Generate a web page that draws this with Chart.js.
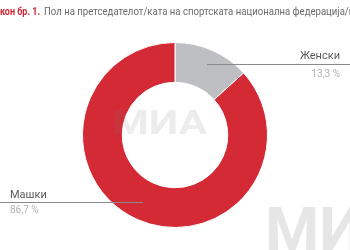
<!DOCTYPE html>
<html>
<head>
<meta charset="utf-8">
<script src="https://cdn.jsdelivr.net/npm/chart.js@4/dist/chart.umd.min.js"></script>
<style>
  html, body { margin: 0; padding: 0; background: #fff; }
  #wrap { position: relative; width: 350px; height: 250px; overflow: hidden; }
</style>
</head>
<body>
<div id="wrap"><canvas id="pie" width="350" height="250"></canvas></div>
<script>
const categories = ['Женски', 'Машки']
const shares = [13.3, 86.7]
const shareLabels = ['13,3 %', '86,7 %']
const colors = ['#bdbfc3', '#d32a35']

const titleLead = 'кон бр. 1.'
const titleRest = 'Пол на претседателот/ката на спортската национална федерација/к'

const FONT = 'Roboto, sans-serif'

// draws text squeezed horizontally so that it fills a given width
function fitText(c, txt, x, y, w) {
    const real = c.measureText(txt).width
    c.save()
    c.translate(x, y)
    c.scale(w / real, 1)
    c.fillText(txt, 0, 0)
    c.restore()
}

// labels, leader lines, title and watermarks
const extras = {
    id: 'extras',
    beforeDatasetsDraw(chart) {
        const c = chart.ctx
        c.save()
        c.fillStyle = 'rgba(205,205,205,0.5)'
        c.font = 'bold 62px ' + FONT
        c.textBaseline = 'top'
        c.textAlign = 'left'
        c.fillText('МИА', 265, 204)
        c.restore()
    },
    afterDraw(chart) {
        const c = chart.ctx
        c.save()

        // title
        c.textBaseline = 'middle'
        c.textAlign = 'left'
        c.font = 'bold 11px ' + FONT
        c.fillStyle = '#cf2a36'
        fitText(c, titleLead, 0, 12, 40)
        c.font = '11px ' + FONT
        c.fillStyle = '#6a6a6a'
        fitText(c, titleRest, 44, 12, 310)

        // centre watermark
        c.font = 'bold 34px ' + FONT
        c.fillStyle = 'rgba(120,120,120,0.14)'
        fitText(c, 'МИА', 112, 125, 95)

        // leader lines
        c.strokeStyle = '#8a8a8a'
        c.lineWidth = 1
        c.beginPath()
        c.moveTo(207, 64.5)
        c.lineTo(350, 64.5)
        c.stroke()
        c.beginPath()
        c.moveTo(0, 202.5)
        c.lineTo(143, 202.5)
        c.stroke()

        // labels
        c.font = '11px ' + FONT
        c.fillStyle = '#5a5a5a'
        c.textAlign = 'right'
        c.fillText(categories[0], 340, 56)
        c.fillStyle = '#b0b0b0'
        c.font = '10px ' + FONT
        c.fillText(shareLabels[0], 340, 74)

        c.textAlign = 'left'
        c.font = '11px ' + FONT
        c.fillStyle = '#5a5a5a'
        c.fillText(categories[1], 10, 195)
        c.fillStyle = '#b0b0b0'
        c.font = '10px ' + FONT
        c.fillText(shareLabels[1], 10, 210)
        c.restore()
    }
}

new Chart(document.getElementById('pie'), {
    type: 'doughnut',
    data: {
        labels: categories,
        datasets: [{
            data: shares,
            backgroundColor: colors,
            borderColor: '#fff',
            borderWidth: 1,
            hoverOffset: 0
        }]
    },
    options: {
        responsive: false,
        maintainAspectRatio: false,
        animation: false,
        cutout: '57%',
        layout: { padding: { top: 42, bottom: 22, left: 0, right: 0 } },
        plugins: {
            legend: { display: false },
            tooltip: { enabled: false }
        }
    },
    plugins: [extras]
})
</script>
</body>
</html>
